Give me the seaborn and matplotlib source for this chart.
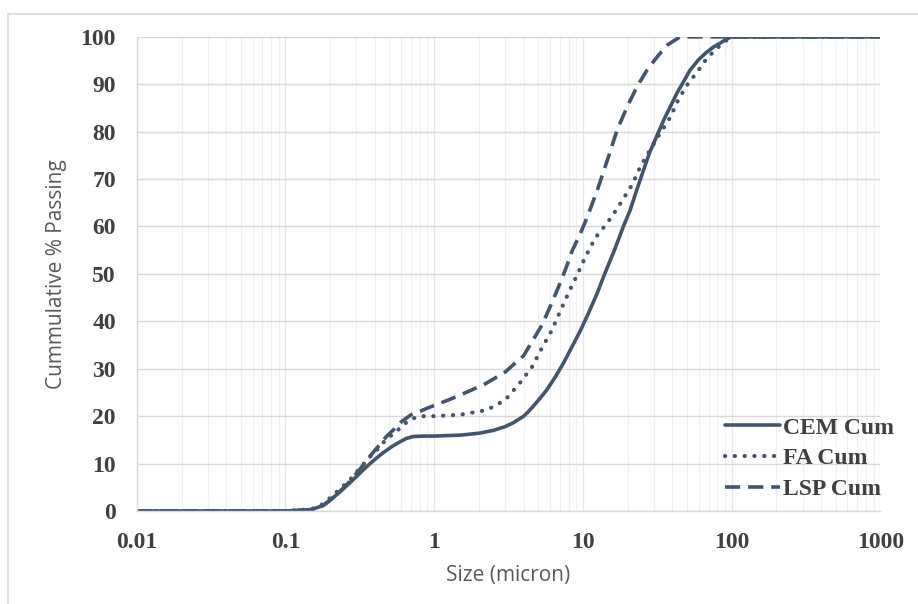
import numpy as np
import pandas as pd
import matplotlib
matplotlib.use("Agg")
import matplotlib.pyplot as plt
import seaborn as sns
from matplotlib.patches import Rectangle

# Particle size (micron) and cumulative % passing
cem_size = [0.01, 0.1, 0.15, 0.18, 0.2, 0.23, 0.27, 0.31, 0.35, 0.4, 0.45, 0.52,
            0.59, 0.65, 0.72, 0.85, 1, 1.5, 2, 2.5, 3, 3.4, 4, 4.4, 5, 5.7, 6.5,
            7.4, 8.5, 9.6, 11, 12.5, 14, 16, 18.7, 20.8, 23, 28, 35, 43, 52.6,
            60, 67, 75, 84, 92, 100, 1000]
cem_cum = [0, 0, 0.3, 1.2, 2.3, 3.9, 5.9, 7.7, 9.3, 10.9, 12.2, 13.6,
           14.6, 15.3, 15.7, 15.8, 15.8, 16.0, 16.4, 17.0, 17.8, 18.6, 20.0, 21.3,
           23.3, 25.5, 28.2, 31.2, 34.8, 38.0, 42, 46, 50, 54.4, 60, 63.5, 67.7,
           75.5, 82.5, 88.2, 93, 95.2, 96.6, 97.8, 98.7, 99.5, 100, 100]

fa_size = [0.01, 0.1, 0.15, 0.18, 0.2, 0.23, 0.27, 0.32, 0.38, 0.43, 0.48, 0.54,
           0.59, 0.64, 0.69, 0.8, 1, 1.5, 2.26, 3, 3.77, 4.55, 5.3, 6.2, 7, 8,
           9.15, 10.4, 12.1, 14.6, 16.5, 18.4, 21.4, 24.3, 28.3, 33.1, 38.6,
           43.7, 50.3, 58.7, 66.5, 77.6, 87.9, 95, 100, 1000]
fa_cum = [0, 0, 0.4, 1.5, 2.8, 4.5, 6.5, 9.2, 11.8, 13.5, 15.3, 16.4,
          17.5, 18.5, 19.3, 20, 20, 20.3, 21.3, 23.4, 27, 30.4, 34.4, 38.2, 42,
          46, 49.8, 53.6, 57.6, 60.8, 63.2, 65.5, 68.8, 72.6, 76.2, 79.7, 83,
          86.7, 89.9, 92.6, 95, 97.3, 98.7, 99.6, 100, 100]

lsp_size = [0.01, 0.1, 0.15, 0.18, 0.2, 0.23, 0.27, 0.32, 0.38, 0.43, 0.48, 0.54,
            0.6, 0.7, 0.8, 0.9, 1.22, 1.56, 2.2, 3, 4, 4.6, 5.3, 6, 6.8, 7.6,
            8.5, 9.6, 10.7, 12.5, 14.6, 17, 19.8, 23.1, 27, 31.6, 37, 45, 1000]
lsp_cum = [0, 0, 0.3, 1.2, 2.3, 4.0, 6.2, 9.0, 12.0, 14.0, 15.8, 17.3,
           18.8, 20.3, 21.0, 21.7, 23.3, 24.7, 26.8, 29.3, 32.8, 36, 39.2, 43, 47,
           50.8, 55, 58.5, 62, 67.7, 74, 80.4, 85.2, 89.5, 93, 95.8, 98.3, 100, 100]

series_names = ["CEM Cum", "FA Cum", "LSP Cum"]
x_ticks = [0.01, 0.1, 1, 10, 100, 1000]
x_tick_labels = ["0.01", "0.1", "1", "10", "100", "1000"]
y_ticks = [0, 10, 20, 30, 40, 50, 60, 70, 80, 90, 100]

sns.set_theme(style="white")
plt.rcParams["font.family"] = ["DejaVu Sans"]

line_color = "#44546A"
fig = plt.figure(figsize=(9.18, 6.04), dpi=100)
ax = fig.add_axes([0.149, 0.154, 0.810, 0.785])

styles = {
    "CEM Cum": dict(linestyle="-", linewidth=2.6, solid_joinstyle="round",
                    solid_capstyle="round"),
    "FA Cum": dict(linestyle=(0, (0.05, 2.3)), linewidth=3.0,
                   dash_capstyle="round", dash_joinstyle="round"),
    "LSP Cum": dict(linestyle=(0, (4.2, 2.2)), linewidth=2.6,
                    dash_capstyle="butt", dash_joinstyle="round"),
}
data = [(cem_size, cem_cum), (fa_size, fa_cum), (lsp_size, lsp_cum)]
for name, (xs, ys) in zip(series_names, data):
    df = pd.DataFrame({"size": xs, "cum": ys})
    sns.lineplot(data=df, x="size", y="cum", ax=ax, color=line_color,
                 label=name, sort=False, **styles[name])

ax.set_xscale("log")
ax.set_xlim(0.01, 1000)
ax.set_ylim(0, 100)
ax.set_xticks(x_ticks)
ax.set_xticklabels(x_tick_labels)
ax.set_yticks(y_ticks)

grid_c = "#D9D9D9"
ax.grid(True, which="major", axis="y", color=grid_c, linewidth=1.0)
ax.grid(True, which="major", axis="x", color="#E6E6E6", linewidth=0.9)
ax.grid(True, which="minor", axis="x", color="#EFEFEF", linewidth=0.8)
ax.set_axisbelow(True)

for s in ["top", "right"]:
    ax.spines[s].set_visible(False)
for s in ["left", "bottom"]:
    ax.spines[s].set_color(grid_c)
    ax.spines[s].set_linewidth(1.0)

ax.tick_params(axis="both", which="major", length=6, width=1.0, color=grid_c,
               direction="out")
ax.tick_params(axis="x", which="major", pad=9)
ax.tick_params(axis="y", which="major", pad=9)
ax.tick_params(axis="x", which="minor", length=0)
ax.tick_params(axis="y", which="minor", length=0)

serif = ["Liberation Serif", "DejaVu Serif"]
for lab in ax.get_xticklabels() + ax.get_yticklabels():
    lab.set_fontfamily(serif)
    lab.set_fontweight("bold")
    lab.set_fontsize(17)
    lab.set_color("#404040")

label_font = dict(family=["Open Sans", "DejaVu Sans"], size=15, color="#595959")
ax.set_xlabel("Size (micron)", labelpad=9, **label_font)
ax.set_ylabel("Cummulative % Passing", labelpad=10, **label_font)

leg = ax.legend(loc="lower left", bbox_to_anchor=(0.791, 0.023), frameon=False,
                prop=dict(family=serif, weight="bold", size=17),
                handlelength=2.33, handletextpad=0.13, labelspacing=0.39,
                borderpad=0, borderaxespad=0)
for t in leg.get_texts():
    t.set_color("#404040")

fig.patches.append(Rectangle((8 / 918, -0.05), 1.0, 1 - 14 / 604 + 0.05,
                             transform=fig.transFigure, fill=False,
                             edgecolor="#D9D9D9", linewidth=1.2))

fig.savefig("out.png", dpi=100)
